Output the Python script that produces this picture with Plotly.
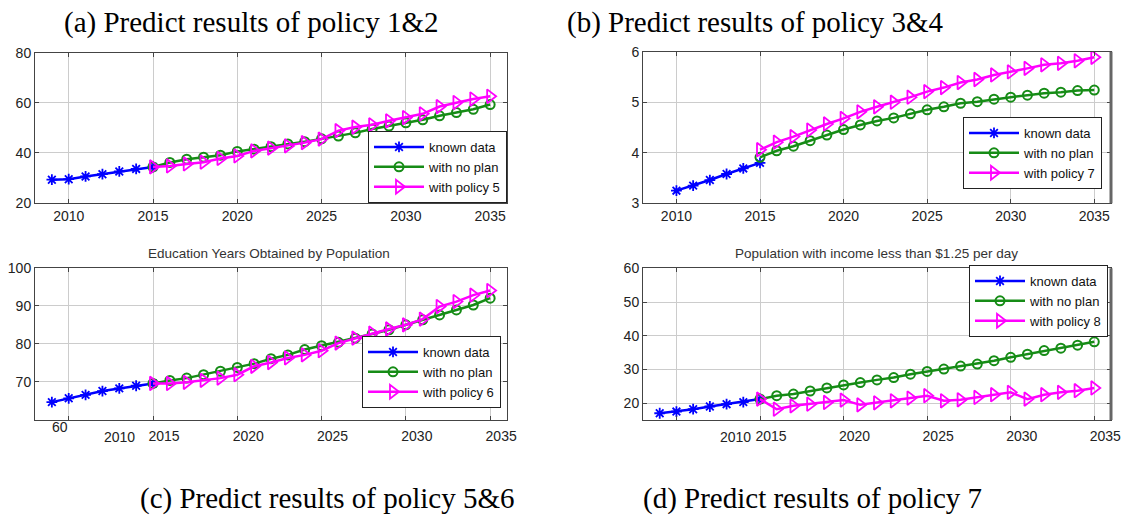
import plotly.graph_objects as go

# ---------------- data ----------------
years_known_09 = [2009, 2010, 2011, 2012, 2013, 2014, 2015]
years_known_10 = [2010, 2011, 2012, 2013, 2014, 2015]
years_fore = list(range(2015, 2036))

a_known = [29.3, 29.5, 30.6, 31.5, 32.6, 33.6, 34.4]
a_noplan = [34.4, 36.2, 37.5, 38.3, 39.1, 40.6, 41.5, 42.5, 43.6, 44.5, 45.6,
            46.7, 48.0, 49.5, 50.7, 52.0, 53.2, 54.8, 56.1, 57.4, 59.3]
a_policy = [34.4, 34.8, 35.6, 36.3, 37.8, 38.8, 40.8, 41.9, 42.8, 44.1, 45.5,
            48.9, 50.3, 51.2, 52.8, 54.1, 55.6, 58.5, 60.1, 61.5, 62.6]

b_known = [3.25, 3.35, 3.46, 3.58, 3.69, 3.80]
b_noplan = [3.91, 4.04, 4.13, 4.24, 4.35, 4.46, 4.55, 4.63, 4.69, 4.77, 4.85,
            4.91, 4.98, 5.01, 5.06, 5.10, 5.14, 5.18, 5.20, 5.23, 5.24]
b_policy = [4.06, 4.21, 4.32, 4.45, 4.57, 4.68, 4.81, 4.91, 5.00, 5.10, 5.21,
            5.29, 5.39, 5.45, 5.54, 5.60, 5.67, 5.74, 5.77, 5.82, 5.89]

c_known = [64.7, 65.7, 66.6, 67.6, 68.3, 69.0, 69.6]
c_noplan = [69.6, 70.4, 71.0, 71.9, 72.8, 73.8, 74.8, 76.1, 77.1, 78.5, 79.5,
            80.4, 81.5, 82.6, 83.7, 85.0, 86.3, 87.6, 88.9, 90.2, 92.0]
c_policy = [69.6, 69.6, 69.9, 70.4, 71.0, 71.9, 74.1, 75.1, 76.3, 77.1, 78.2,
            80.2, 81.5, 82.8, 83.9, 85.0, 86.5, 89.8, 91.1, 92.8, 94.0]

d_known = [17.0, 17.5, 18.2, 19.0, 19.7, 20.3, 21.2]
d_noplan = [21.2, 22.2, 22.7, 23.6, 24.5, 25.4, 26.1, 26.9, 27.6, 28.6, 29.4,
            30.1, 31.0, 31.6, 32.6, 33.6, 34.5, 35.6, 36.3, 37.2, 38.2]
d_policy = [21.2, 18.2, 19.2, 19.7, 20.2, 20.9, 19.5, 20.1, 20.7, 21.5, 22.2,
            20.7, 21.0, 21.7, 22.5, 23.2, 21.2, 22.5, 23.2, 23.7, 24.5]

x_ticks = [2010, 2015, 2020, 2025, 2030, 2035]
x_ticktext_top = ["2010", "2015", "2020", "2025", "2030", "2035"]
x_ticktext_bottom = ["", "2015", "2020", "2025", "2030", "2035"]

captions = ["(a) Predict results of policy 1&2", "(b) Predict results of policy 3&4",
            "(c) Predict results of policy 5&6", "(d) Predict results of policy 7"]
sub_titles = ["Education Years Obtained by Population",
              "Population with income less than $1.25 per day"]
policy_names = ["with policy 5", "with policy 7", "with policy 6", "with policy 8"]

# ---------------- styling ----------------
W, H = 1128, 515
BLUE, GREEN, MAGENTA = "#0000ff", "#168c16", "#ff00ff"
TICKFONT = dict(family="Liberation Sans, Arial, sans-serif", size=14, color="#222222")


def px_x(p):
    return p / W


def px_y(p):
    return 1 - p / H


panels = [
    # (known years, known, noplan, policy, xdomain px, ydomain px(top,bottom), yrange, legend pos px)
    (years_known_09, a_known, a_noplan, a_policy, (35, 507), (52.7, 203), [20, 80], (368, 131)),
    (years_known_10, b_known, b_noplan, b_policy, (643, 1111), (51.7, 203.3), [3, 6], (963, 117)),
    (years_known_09, c_known, c_noplan, c_policy, (35, 507), (267.7, 420), [60, 100], (362, 336)),
    (years_known_09, d_known, d_noplan, d_policy, (643, 1111), (268.3, 420), [15, 60], (969, 265)),
]

fig = go.Figure()
layout = dict(width=W, height=H, margin=dict(l=0, r=0, t=0, b=0, pad=0, autoexpand=False),
              paper_bgcolor="white", plot_bgcolor="white", annotations=[], shapes=[])

for i, (yk, kn, npl, pol, xd, yd, yr, lg) in enumerate(panels):
    n = i + 1
    sfx = "" if n == 1 else str(n)
    lname = "legend" + sfx
    common = dict(xaxis="x" + sfx, yaxis="y" + sfx, legend=lname, mode="lines+markers")
    fig.add_trace(go.Scatter(x=yk, y=kn, name="known data",
                             line=dict(color=BLUE, width=2.5),
                             marker=dict(symbol="asterisk-open", size=9,
                                         line=dict(color=BLUE, width=1.8)), **common))
    fig.add_trace(go.Scatter(x=years_fore, y=npl, name="with no plan",
                             line=dict(color=GREEN, width=2.5),
                             marker=dict(symbol="circle-open", size=9, color=GREEN,
                                         line=dict(color=GREEN, width=2)), **common))
    fig.add_trace(go.Scatter(x=years_fore, y=pol, name=policy_names[i],
                             line=dict(color=MAGENTA, width=2.5),
                             marker=dict(symbol="triangle-right-open", size=12, color=MAGENTA,
                                         line=dict(color=MAGENTA, width=1.8)), **common))

    bottom_row = n >= 3
    xa = dict(domain=[px_x(xd[0]), px_x(xd[1])], range=[2008, 2036], anchor="y" + sfx,
              tickmode="array", tickvals=x_ticks,
              ticktext=x_ticktext_bottom if bottom_row else x_ticktext_top,
              ticks="inside", ticklen=4, tickcolor="#444", mirror="allticks",
              showline=True, linecolor="#444", linewidth=1,
              showgrid=True, gridcolor="#cccccc", gridwidth=1, zeroline=False,
              tickfont=TICKFONT, automargin=False)
    if bottom_row:
        xa.update(ticklabelshift=11, ticklabelstandoff=3)
    if n == 1:
        ytv = [20, 40, 60, 80]; ytt = ["20", "40", "60", "80"]
    elif n == 2:
        ytv = [3, 4, 5, 6]; ytt = ["3", "4", "5", "6"]
    elif n == 3:
        ytv = [60, 70, 80, 90, 100]; ytt = ["", "70", "80", "90", "100"]
    else:
        ytv = [20, 30, 40, 50, 60]; ytt = ["20", "30", "40", "50", "60"]
    ya = dict(domain=[px_y(yd[1]), px_y(yd[0])], range=yr, anchor="x" + sfx,
              tickmode="array", tickvals=ytv, ticktext=ytt,
              ticks="inside", ticklen=4, tickcolor="#444", mirror="allticks",
              showline=True, linecolor="#444", linewidth=1,
              showgrid=True, gridcolor="#cccccc", gridwidth=1, zeroline=False,
              tickfont=TICKFONT, automargin=False)
    layout["xaxis" + sfx] = xa
    layout["yaxis" + sfx] = ya
    layout[lname] = dict(x=px_x(lg[0]), y=px_y(lg[1]), xanchor="left", yanchor="top",
                         bgcolor="white", bordercolor="#222", borderwidth=1,
                         font=dict(family="Liberation Sans, Arial, sans-serif", size=13,
                                   color="#111"),
                         tracegroupgap=0, itemwidth=50)
    if n in (2, 4):
        layout["shapes"].append(dict(type="line", xref="x" + sfx + " domain", yref="y" + sfx + " domain",
                                     x0=1, x1=1, y0=0, y1=1,
                                     line=dict(color="#666", width=3)))

# captions
cap_pos = [(251, 22), (755, 22), (327, 498), (812, 498)]
for txt, (cx, cy) in zip(captions, cap_pos):
    layout["annotations"].append(dict(text=txt, x=px_x(cx), y=px_y(cy), xref="paper", yref="paper",
                                      xanchor="center", yanchor="middle", showarrow=False,
                                      font=dict(family="Liberation Serif, Times New Roman, serif",
                                                size=29, color="black")))
# small subplot titles
for txt, cx in zip(sub_titles, [269, 876]):
    layout["annotations"].append(dict(text=txt, x=px_x(cx), y=px_y(253), xref="paper", yref="paper",
                                      xanchor="center", yanchor="middle", showarrow=False,
                                      font=dict(family="Liberation Sans, Arial, sans-serif",
                                                size=13.5, color="#333")))
# displaced tick labels in lower panels
layout["annotations"].append(dict(text="2010", x=2010, xref="x3", xshift=51, y=px_y(437), yref="paper",
                                  xanchor="center", yanchor="middle", showarrow=False, font=TICKFONT))
layout["annotations"].append(dict(text="2010", x=2010, xref="x4", xshift=59, y=px_y(437), yref="paper",
                                  xanchor="center", yanchor="middle", showarrow=False, font=TICKFONT))
layout["annotations"].append(dict(text="60", x=2010, xref="x3", xshift=-9, y=px_y(427), yref="paper",
                                  xanchor="center", yanchor="middle", showarrow=False, font=TICKFONT))

fig.update_layout(**layout)
fig.write_html("out.html", config={"displayModeBar": False},
               post_script="document.body.style.margin='0px';document.body.style.overflow='hidden';")
